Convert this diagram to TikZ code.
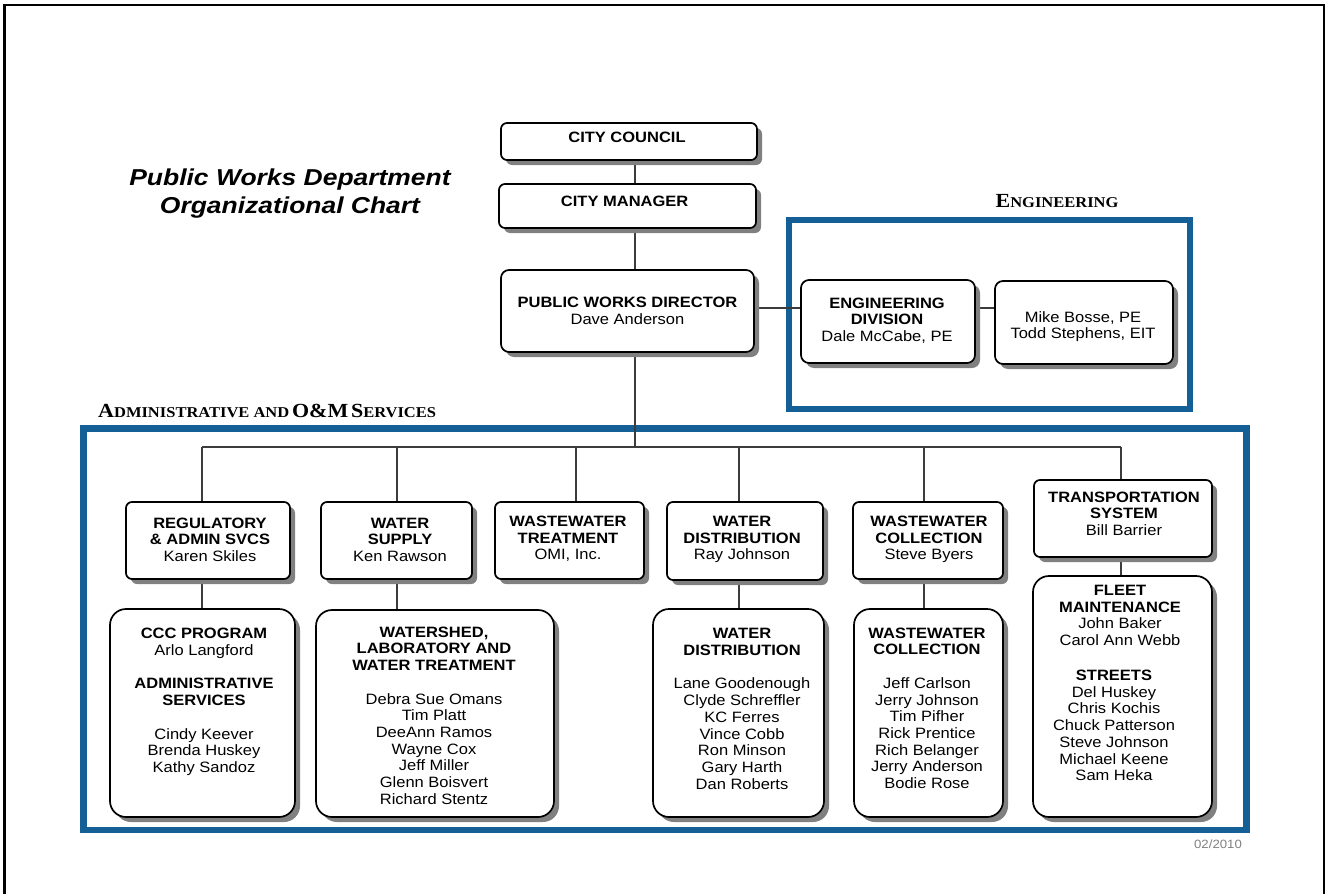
\documentclass[tikz,border=0pt]{standalone}
\usepackage{fontspec}
\setmainfont{Liberation Sans}[FakeStretch=1.1]
\newfontfamily\titlefont{Liberation Sans}[FakeStretch=1.15]
\newfontfamily\headfont{Liberation Serif}[FakeStretch=1.1]
\usetikzlibrary{shadows}
\pgfdeclarelayer{background}
\pgfsetlayers{background,main}
\definecolor{pwblue}{RGB}{20,96,150}
\definecolor{connc}{RGB}{60,60,60}
\newcommand{\fl}{\rule{0pt}{11.5pt}}
\newcommand{\schead}[2]{{\fontsize{20}{20}\selectfont #1}{\fontsize{15}{15}\selectfont #2}}
\begin{document}
\begin{tikzpicture}[x=1pt,y=-1pt,
  box/.style={draw=black, line width=1.7pt, fill=white, rounded corners=6pt, inner sep=0pt,
    drop shadow={shadow xshift=5pt, shadow yshift=-5pt, fill=black!50, opacity=1}},
  bigbox/.style={box, rounded corners=16pt},
  conn/.style={draw=connc, line width=1.5pt},
  bluefr/.style={draw=pwblue, line width=6.5pt, inner sep=0pt},
  txt/.style={anchor=north, inner sep=0pt, align=center, font=\fontsize{15}{16.7}\selectfont}]
\useasboundingbox (0,0) rectangle (1326,894);
% outer frame
\draw[line width=2.5pt] (4.5,894) -- (4.5,5) -- (1324,5) -- (1324,894);
% title
\node[anchor=north, inner sep=0pt, align=center, font=\titlefont\fontsize{23}{28.3}\selectfont\bfseries\itshape] (title) at (290,167.5) {\rule{0pt}{17.5pt}Public Works Department\\Organizational Chart};
% headings
\node[anchor=base, inner sep=0pt, font=\headfont\bfseries] (enghead) at (1057,207.6) {\schead{E}{NGINEERING}};
\node[anchor=base west, inner sep=0pt, font=\headfont\bfseries] (admhead) at (98,417.3) {\schead{A}{DMINISTRATIVE AND} \schead{O\&M}{} \schead{S}{ERVICES}};
% coordinates
\coordinate (spine) at (635,0);
\coordinate (bus) at (635,447);
\coordinate (eline) at (0,308);
\coordinate (xreg) at (202,0);
\coordinate (xws) at (397,0);
\coordinate (xwwt) at (576,0);
\coordinate (xwd) at (739,0);
\coordinate (xwwc) at (924,0);
\coordinate (xtr) at (1121,0);
% boxes
\path
  (629,141.5) node[box, minimum width=256pt, minimum height=37pt] (council) {}
  (627.5,206) node[box, minimum width=257pt, minimum height=44pt] (manager) {}
  (627.5,311) node[box, rounded corners=8pt, minimum width=253pt, minimum height=82pt] (director) {}
  (888,321.5) node[box, rounded corners=8pt, minimum width=174pt, minimum height=83pt] (engdiv) {}
  (1084,322.5) node[box, rounded corners=8pt, minimum width=178pt, minimum height=83pt] (mike) {}
  (208,540.5) node[box, minimum width=164pt, minimum height=77pt] (reg) {}
  (396.5,540.5) node[box, minimum width=151pt, minimum height=77pt] (ws) {}
  (569.5,540.5) node[box, minimum width=149pt, minimum height=77pt] (wwt) {}
  (745,541) node[box, minimum width=156pt, minimum height=78pt] (wd) {}
  (928,540.5) node[box, minimum width=150pt, minimum height=77pt] (wwc) {}
  (1123,518.5) node[box, minimum width=178pt, minimum height=77pt] (trans) {}
  (202.5,713) node[bigbox, minimum width=185pt, minimum height=208pt] (ccc) {}
  (435,713.5) node[bigbox, minimum width=238pt, minimum height=207pt] (wshed) {}
  (738.5,713) node[bigbox, minimum width=171pt, minimum height=208pt] (wdb) {}
  (928.5,713) node[bigbox, minimum width=149pt, minimum height=208pt] (wwcb) {}
  (1122.5,696.5) node[bigbox, minimum width=179pt, minimum height=241pt] (fleet) {};
% frames and connectors behind the boxes
\begin{pgfonlayer}{background}
\node[bluefr, minimum width=401pt, minimum height=189pt] (engframe) at (989.5,314.5) {};
\node[bluefr, minimum width=1162.6pt, minimum height=401.7pt] (admframe) at (665,629.15) {};
\draw[conn] (council.south -| spine) -- (manager.north -| spine);
\draw[conn] (manager.south -| spine) -- (director.north -| spine);
\draw[conn] (director.south -| spine) -- (bus);
\draw[conn] (director.east |- eline) -- (engdiv.west |- eline);
\draw[conn] (engdiv.east |- eline) -- (mike.west |- eline);
\draw[conn] (xreg |- bus) -- (xtr |- bus);
\foreach \c/\b in {xreg/reg, xws/ws, xwwt/wwt, xwd/wd, xwwc/wwc, xtr/trans}
  \draw[conn] (\c |- bus) -- (\c |- \b.north);
\foreach \c/\a/\b in {xreg/reg/ccc, xws/ws/wshed, xwd/wd/wdb, xwwc/wwc/wwcb, xtr/trans/fleet}
  \draw[conn] (\c |- \a.south) -- (\c |- \b.north);
\end{pgfonlayer}
% texts
\node[txt] (tcouncil) at (627,131.15) {\fl\textbf{CITY COUNCIL}};
\node[txt] (tmanager) at (624.7,194.55) {\fl\textbf{CITY MANAGER}};
\node[txt] (tdirector) at (627.5,296.15) {\fl\textbf{PUBLIC WORKS DIRECTOR}\\Dave Anderson};
\node[txt] (tengdiv) at (887,296.55) {\fl\textbf{ENGINEERING}\\\textbf{DIVISION}\\Dale McCabe, PE};
\node[txt] (tmike) at (1083,310.55) {\fl Mike Bosse, PE\\Todd Stephens, EIT};
\node[txt] (treg) at (210,516.55) {\fl\textbf{REGULATORY}\\\textbf{\& ADMIN SVCS}\\Karen Skiles};
\node[txt] (tws) at (400,516.55) {\fl\textbf{WATER}\\\textbf{SUPPLY}\\Ken Rawson};
\node[txt] (twwt) at (568,514.85) {\fl\textbf{WASTEWATER}\\\textbf{TREATMENT}\\OMI, Inc.};
\node[txt] (twd) at (742,514.85) {\fl\textbf{WATER}\\\textbf{DISTRIBUTION}\\Ray Johnson};
\node[txt] (twwc) at (929,514.85) {\fl\textbf{WASTEWATER}\\\textbf{COLLECTION}\\Steve Byers};
\node[txt] (ttrans) at (1124,490.55) {\fl\textbf{TRANSPORTATION}\\\textbf{SYSTEM}\\Bill Barrier};
\node[txt] (tccc) at (204,627.15) {\fl\textbf{CCC PROGRAM}\\Arlo Langford\\[16.7pt]\textbf{ADMINISTRATIVE}\\\textbf{SERVICES}\\[16.7pt]Cindy Keever\\Brenda Huskey\\Kathy Sandoz};
\node[txt] (twshed) at (434,625.55) {\fl\textbf{WATERSHED,}\\\textbf{LABORATORY AND}\\\textbf{WATER TREATMENT}\\[16.7pt]Debra Sue Omans\\Tim Platt\\DeeAnn Ramos\\Wayne Cox\\Jeff Miller\\Glenn Boisvert\\Richard Stentz};
\node[txt] (twdb) at (742,627.15) {\fl\textbf{WATER}\\\textbf{DISTRIBUTION}\\[16.7pt]Lane Goodenough\\Clyde Schreffler\\KC Ferres\\Vince Cobb\\Ron Minson\\Gary Harth\\Dan Roberts};
\node[txt] (twwcb) at (927,626.55) {\fl\textbf{WASTEWATER}\\\textbf{COLLECTION}\\[16.7pt]Jeff Carlson\\Jerry Johnson\\Tim Pifher\\Rick Prentice\\Rich Belanger\\Jerry Anderson\\Bodie Rose};
\node[txt] (tfleet) at (1120,583.85) {\fl\textbf{FLEET}\\\textbf{MAINTENANCE}\\John Baker\\Carol Ann Webb};
\node[txt] (tstreets) at (1114,668.85) {\fl\textbf{STREETS}\\Del Huskey\\Chris Kochis\\Chuck Patterson\\Steve Johnson\\Michael Keene\\Sam Heka};
% date
\node[anchor=base, inner sep=0pt, text=black!50, font=\fontsize{12}{12}\selectfont] (date) at (1218,848.5) {02/2010};
\end{tikzpicture}
\end{document}
